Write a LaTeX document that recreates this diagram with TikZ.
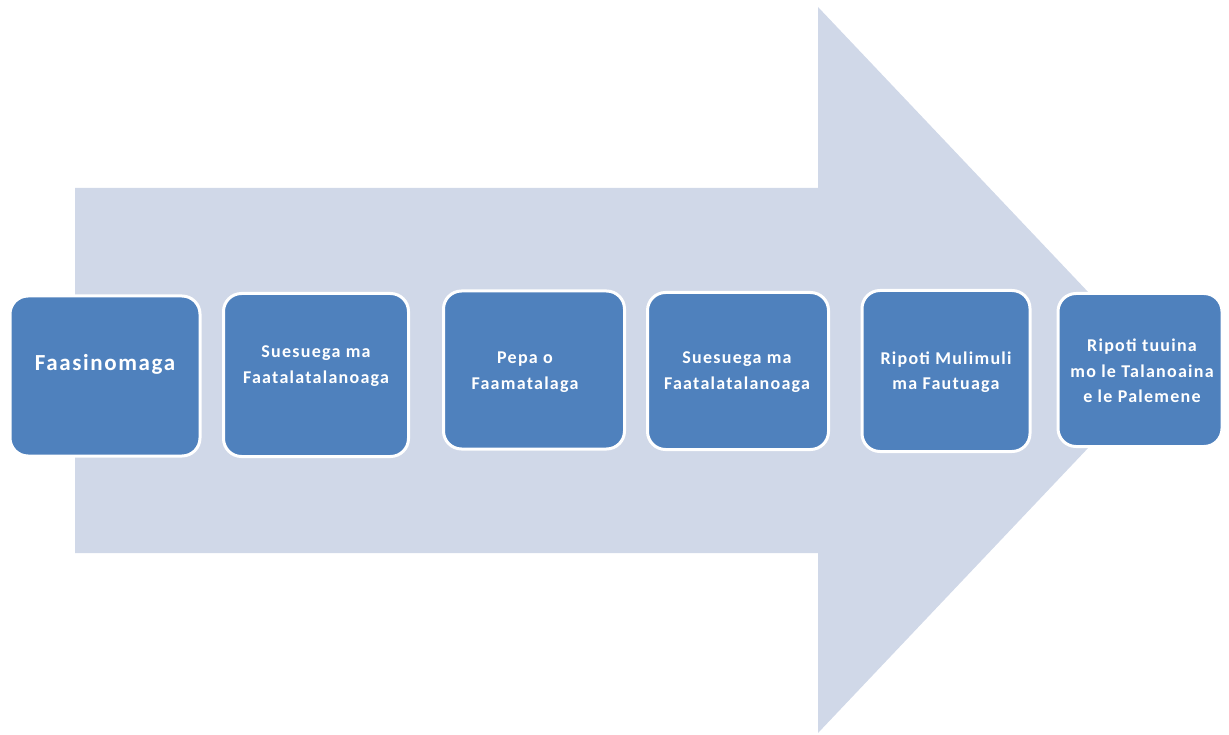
\documentclass[tikz,border=0pt]{standalone}
\usepackage{fontspec}
\setmainfont{Carlito}
\newfontfamily\boxfont[LetterSpace=7]{Carlito}
\definecolor{arrowfill}{HTML}{D0D8E8}
\definecolor{boxfill}{HTML}{4F81BD}
\begin{document}
\begin{tikzpicture}[x=1pt,y=-1pt,
  stagebox/.style={draw=white, line width=3pt, fill=boxfill, rounded corners=18pt, inner sep=0pt},
  stagetext/.style={text=white, align=center, inner sep=0pt,
    font=\boxfont\bfseries\fontsize{18}{25.5}\selectfont}]
\useasboundingbox (0,0) rectangle (1229,735);
\fill[arrowfill] (75,188) -- (818,188) -- (818,7) -- (1162,370) -- (818,733) -- (818,553) -- (75,553) -- cycle;
\node[stagebox, minimum width=190pt, minimum height=160pt] (s1) at (105,376) {};
\node[stagebox, minimum width=185pt, minimum height=163pt] (s2) at (316,375) {};
\node[stagebox, minimum width=181pt, minimum height=158pt] (s3) at (534,370) {};
\node[stagebox, minimum width=181pt, minimum height=157pt] (s4) at (738,371) {};
\node[stagebox, minimum width=168pt, minimum height=161pt] (s5) at (946,371) {};
\node[stagebox, minimum width=164pt, minimum height=153pt] (s6) at (1140,370) {};
\node[stagetext, font=\boxfont\bfseries\fontsize{23}{26}\selectfont] (t1) at (105,364) {Faasinomaga};
\node[stagetext] (t2) at (316,366) {Suesuega ma\\Faatalatalanoaga};
\node[stagetext] (t3) at (525,372) {Pepa o\\Faamatalaga};
\node[stagetext] (t4) at (737,372) {Suesuega ma\\Faatalatalanoaga};
\node[stagetext] (t5) at (946,372) {Ripoti Mulimuli\\ma Fautuaga};
\node[stagetext] (t6) at (1142,371) {Ripoti tuuina\\mo le Talanoaina\\e le Palemene};
\end{tikzpicture}
\end{document}
